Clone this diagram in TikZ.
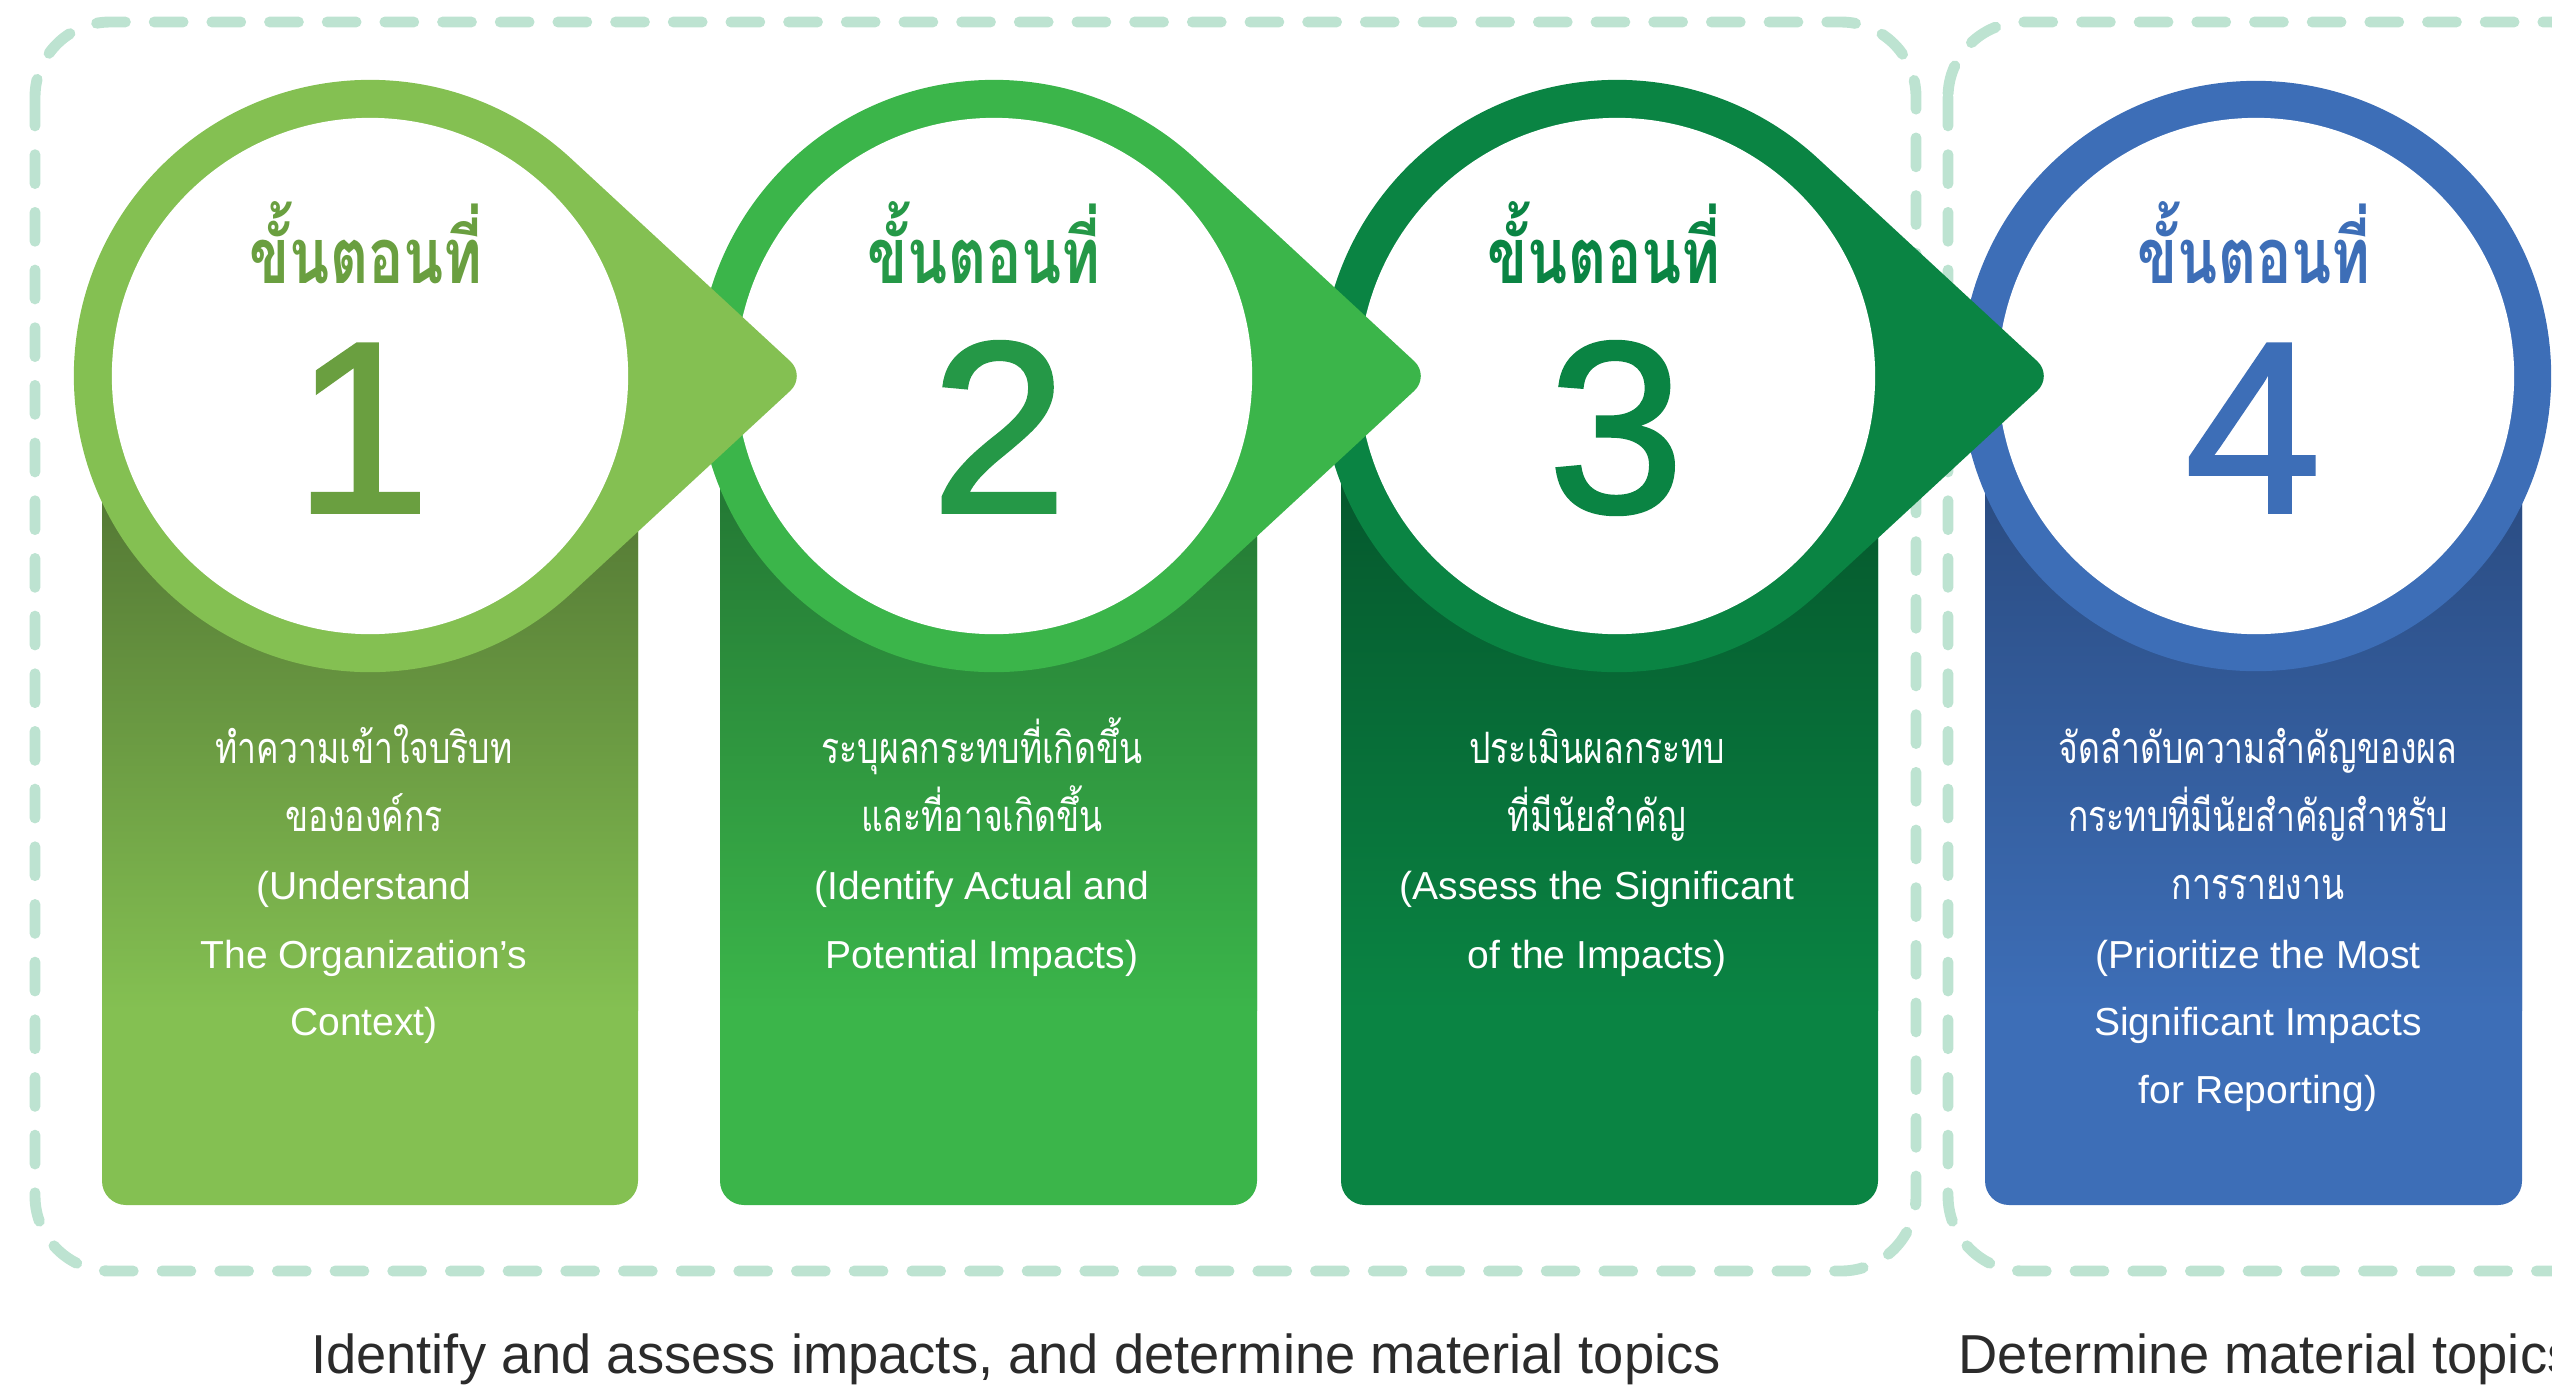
\documentclass[tikz,border=0pt]{standalone}
\usepackage{fontspec}
\setmainfont{Liberation Sans}
\newfontfamily\thaicond[Script=Thai,FakeStretch=0.78]{Loma}
\newfontfamily\thaititle[Script=Thai,FakeStretch=0.76]{Loma}
\newfontfamily\digitfont[FakeBold=1.5]{Liberation Sans}
\newfontfamily\captionfont[FakeStretch=0.99]{Liberation Sans}
\usetikzlibrary{calc}
\definecolor{dashc}{HTML}{BDE3D1}
\definecolor{bottomc}{HTML}{2B2B2B}
\definecolor{aring}{HTML}{84C052}\definecolor{alight}{HTML}{84C052}\definecolor{adark}{HTML}{557A35}\definecolor{atext}{HTML}{6A9F40}
\definecolor{bring}{HTML}{3BB54A}\definecolor{blight}{HTML}{3BB54A}\definecolor{bdark}{HTML}{247A35}\definecolor{btext}{HTML}{259847}
\definecolor{cring}{HTML}{0A8443}\definecolor{clight}{HTML}{0A8443}\definecolor{cdark}{HTML}{055A2E}\definecolor{ctext}{HTML}{0A8443}
\definecolor{dring}{HTML}{3D6EB7}\definecolor{dlight}{HTML}{3D6EB7}\definecolor{ddark}{HTML}{2B4D84}\definecolor{dtext}{HTML}{3D6EB7}
\tikzset{
  dashbox/.style={draw=dashc, line width=3.1pt, line cap=round, dash pattern=on 8.2pt off 8.2pt, rounded corners=0.75cm},
  engtxt/.style={text=white, anchor=base, inner sep=0pt, font=\fontsize{11.1pt}{13pt}\selectfont},
  thaitxt/.style={text=white, anchor=base, inner sep=0pt, font=\thaicond\fontsize{12.3pt}{14pt}\selectfont},
  titletxt/.style={anchor=base, inner sep=0pt, font=\thaititle\bfseries\fontsize{22pt}{24pt}\selectfont},
  numtxt/.style={anchor=base, inner sep=0pt, font=\digitfont\fontsize{69.4pt}{70pt}\selectfont},
  bottomtxt/.style={anchor=base, inner sep=0pt, text=bottomc, font=\captionfont\fontsize{15.6pt}{17pt}\selectfont},
  hole/.style={circle, fill=white, inner sep=0pt, minimum size=5.16cm},
}
% #1 name, #2 circle x, #3 card left, #4 card right, #5 colour prefix
\newcommand\stepcard[5]{%
  \fill[#5light, rounded corners=0.24cm] (#3,380) rectangle (#4,1205);
  \fill[#5dark] (#3,380) rectangle (#4,501);
  \shade[top color=#5dark, bottom color=#5light] (#3,500) rectangle (#4,1010);
}
\newcommand\steptear[2]{% #1 circle x, #2 colour prefix
  \fill[#2ring] ($(#1,376)+(312.76:2.96cm)$) [rounded corners=0.22cm] -- ($(#1,376)+(4.36cm,0pt)$) [sharp corners] -- ($(#1,376)+(47.24:2.96cm)$) arc[start angle=47.24, end angle=312.76, radius=2.96cm] -- cycle;
}
\begin{document}
\begin{tikzpicture}[x=0.01cm, y=-0.01cm]
\useasboundingbox (0,0) rectangle (2552,1387);
\clip (0,0) rectangle (2552,1387);
% dashed groups
\draw[dashbox] (35,22) rectangle (1916,1271);
\draw[dashbox] (1948,22) rectangle (2625,1271);
% step 4
\stepcard{s4}{2256}{1985}{2522}{d}
\fill[dring] (2256,376) circle[radius=2.95cm];
\node[hole] (c4) at (2256,376) {};
\node[titletxt, text=dtext] (h4) at (2254,283) {ขั้นตอนที่};
\node[numtxt, text=dtext] (n4) at (2253,512) {4};
% step 3
\stepcard{s3}{1617}{1341}{1878}{c}
\steptear{1617}{c}
\node[hole] (c3) at (1617,376) {};
\node[titletxt, text=ctext] (h3) at (1604,283) {ขั้นตอนที่};
\node[numtxt, text=ctext] (n3) at (1616,512) {3};
% step 2
\stepcard{s2}{994}{720}{1257}{b}
\steptear{994}{b}
\node[hole] (c2) at (994,376) {};
\node[titletxt, text=btext] (h2) at (984,283) {ขั้นตอนที่};
\node[numtxt, text=btext] (n2) at (999,512) {2};
% step 1
\stepcard{s1}{370}{102}{638}{a}
\steptear{370}{a}
\node[hole] (c1) at (370,376) {};
\node[titletxt, text=atext] (h1) at (366,283) {ขั้นตอนที่};
\node[numtxt, text=atext] (n1) at (362,512) {1};
% card texts
\node[thaitxt] (t1a) at (364,763) {ทำความเข้าใจบริบท};
\node[thaitxt] (t1b) at (364,831) {ขององค์กร};
\node[engtxt] (t1c) at (364,899) {(Understand};
\node[engtxt] (t1d) at (364,968) {The Organization’s};
\node[engtxt] (t1e) at (364,1035) {Context)};
\node[thaitxt] (t2a) at (982,763) {ระบุผลกระทบที่เกิดขึ้น};
\node[thaitxt] (t2b) at (982,831) {และที่อาจเกิดขึ้น};
\node[engtxt] (t2c) at (982,899) {(Identify Actual and};
\node[engtxt] (t2d) at (982,968) {Potential Impacts)};
\node[thaitxt] (t3a) at (1597,763) {ประเมินผลกระทบ};
\node[thaitxt] (t3b) at (1597,831) {ที่มีนัยสำคัญ};
\node[engtxt] (t3c) at (1597,899) {(Assess the Significant};
\node[engtxt] (t3d) at (1597,968) {of the Impacts)};
\node[thaitxt] (t4a) at (2258,763) {จัดลำดับความสำคัญของผล};
\node[thaitxt] (t4b) at (2258,831) {กระทบที่มีนัยสำคัญสำหรับ};
\node[thaitxt] (t4c) at (2258,899) {การรายงาน};
\node[engtxt] (t4d) at (2258,968) {(Prioritize the Most};
\node[engtxt] (t4e) at (2258,1035) {Significant Impacts};
\node[engtxt] (t4f) at (2258,1103) {for Reporting)};
% bottom captions
\node[bottomtxt] (g1) at (1016,1373) {Identify and assess impacts, and determine material topics};
\node[bottomtxt, anchor=base west] (g2) at (1958,1373) {Determine material topics};
\end{tikzpicture}
\end{document}
